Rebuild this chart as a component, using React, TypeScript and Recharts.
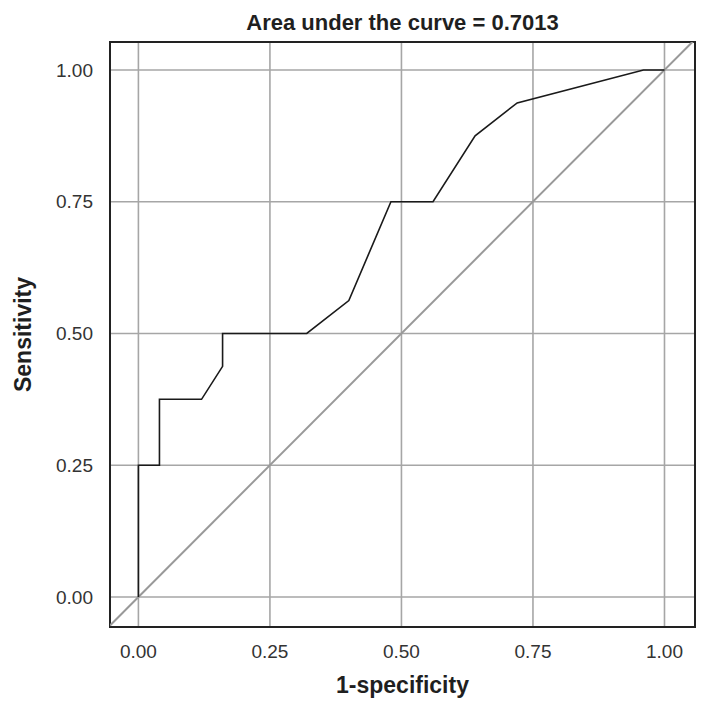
import React from 'react';
import { ComposedChart, Line, XAxis, YAxis, CartesianGrid, ReferenceLine, ReferenceArea, Label } from 'recharts';

const fpr = [0, 0, 0.04, 0.04, 0.12, 0.16, 0.16, 0.32, 0.40, 0.48, 0.56, 0.64, 0.72, 0.96, 1.0];
const tpr = [0, 0.25, 0.25, 0.375, 0.375, 0.4375, 0.5, 0.5, 0.5625, 0.75, 0.75, 0.875, 0.9375, 1.0, 1.0];
const ticks = [0, 0.25, 0.5, 0.75, 1];
const xDomain: [number, number] = [-0.054, 1.058];
const yDomain: [number, number] = [-0.057, 1.053];
const title = 'Area under the curve = 0.7013';
const xLabel = '1-specificity';
const yLabel = 'Sensitivity';

const data = fpr.map((x, i) => ({ x, y: tpr[i] }));

const font = 'Liberation Sans, Arial, Helvetica, sans-serif';

export default function App() {
  return (
    <div style={{ position: 'absolute', left: 0, top: 0, width: 711, height: 717, background: '#fff', fontFamily: font }}>
      <div style={{ position: 'absolute', left: 110, width: 585, top: 12, textAlign: 'center', fontSize: 22, lineHeight: '22px', fontWeight: 'bold', color: '#1f1f1f' }}>
        {title}
      </div>
      <ComposedChart width={711} height={717} data={data} margin={{ top: 42, right: 16, bottom: 30, left: 50 }}>
        <CartesianGrid stroke="#a6a6a6" strokeWidth={1.6} horizontalValues={ticks} verticalValues={ticks} />
        <XAxis
          dataKey="x"
          type="number"
          domain={xDomain}
          ticks={ticks}
          allowDataOverflow
          tickFormatter={(v: number) => v.toFixed(2)}
          axisLine={false}
          tickLine={false}
          tickSize={0}
          tickMargin={18}
          height={60}
          tick={{ fill: '#333', fontSize: 19, fontFamily: font }}
        >
          <Label value={xLabel} position="insideBottom" offset={-6} style={{ fontSize: 23, fontWeight: 'bold', fill: '#1f1f1f', fontFamily: font }} />
        </XAxis>
        <YAxis
          dataKey="y"
          type="number"
          domain={yDomain}
          ticks={ticks}
          allowDataOverflow
          tickFormatter={(v: number) => v.toFixed(2)}
          axisLine={false}
          tickLine={false}
          tickSize={0}
          tickMargin={17}
          width={60}
          tick={{ fill: '#333', fontSize: 19, fontFamily: font }}
        >
          <Label value={yLabel} angle={-90} position="insideLeft" offset={-27} style={{ fontSize: 23, fontWeight: 'bold', fill: '#1f1f1f', fontFamily: font, textAnchor: 'middle' }} />
        </YAxis>
        <ReferenceLine
          segment={[{ x: xDomain[0], y: xDomain[0] }, { x: xDomain[1], y: xDomain[1] }]}
          stroke="#999"
          strokeWidth={2}
          ifOverflow="hidden"
        />
        <Line dataKey="y" type="linear" stroke="#1a1a1a" strokeWidth={1.6} dot={false} isAnimationActive={false} />
        <ReferenceArea x1={xDomain[0]} x2={xDomain[1]} y1={yDomain[0]} y2={yDomain[1]} fill="none" stroke="#222" strokeWidth={2} ifOverflow="visible" />
      </ComposedChart>
    </div>
  );
}
